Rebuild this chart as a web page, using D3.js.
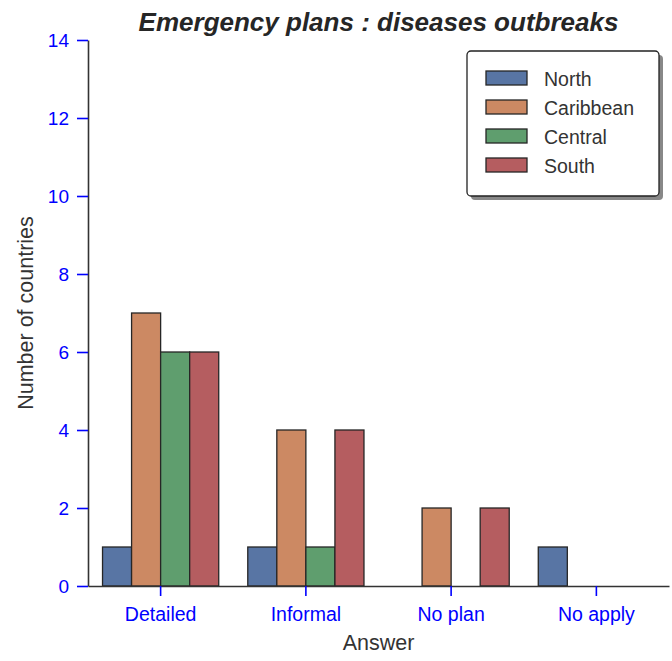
<!DOCTYPE html>
<html>
<head>
<meta charset="utf-8">
<script src="https://cdn.jsdelivr.net/npm/d3@7"></script>
<style>
  body { margin: 0; background: #fff; font-family: "Liberation Sans", Arial, sans-serif; }
  svg text { font-family: "Liberation Sans", Arial, sans-serif; }
</style>
</head>
<body>
<div id="container"><svg></svg></div>
<script>
let width = 672;
let height = 661;

// data
let categories = ['Detailed', 'Informal', 'No plan', 'No apply'];
let regions = ['North', 'Caribbean', 'Central', 'South'];
let north = [1, 1, 0, 1];
let caribbean = [7, 4, 2, 0];
let central = [6, 1, 0, 0];
let south = [6, 4, 2, 0];
let yTicks = [0, 2, 4, 6, 8, 10, 12, 14];
let colors = ['#5875a4', '#cc8963', '#5f9e6e', '#b55d60'];

let series = [north, caribbean, central, south];

function draw_main() {
    let padding = {left: 88, right: 3, top: 40, bottom: 75};
    let svg = d3.select('#container').select('svg')
        .attr('width', width)
        .attr('height', height);

    let x = d3.scaleBand()
        .domain(categories)
        .range([padding.left, width - padding.right])
        .padding(0);
    let xInner = d3.scaleBand()
        .domain(regions)
        .range([0, x.bandwidth() * 0.8]);
    let y = d3.scaleLinear()
        .domain([0, 14])
        .range([height - padding.bottom, padding.top]);

    // title
    svg.append('text')
        .attr('x', (padding.left + width - padding.right) / 2)
        .attr('y', 31)
        .attr('text-anchor', 'middle')
        .attr('font-size', '26px')
        .attr('font-weight', 'bold')
        .attr('font-style', 'italic')
        .attr('fill', '#262626')
        .text('Emergency plans : diseases outbreaks');

    // bars
    regions.forEach((r, i) => {
        svg.append('g')
            .selectAll('rect')
            .data(series[i])
            .enter()
            .append('rect')
            .attr('x', (d, j) => x(categories[j]) + x.bandwidth() * 0.1 + xInner(r))
            .attr('y', d => y(d))
            .attr('width', xInner.bandwidth())
            .attr('height', d => y(0) - y(d))
            .attr('fill', colors[i])
            .attr('stroke', '#262626')
            .attr('stroke-width', 1.3);
    });

    // x axis
    let gx = svg.append('g')
        .attr('transform', `translate(0, ${y(0)})`)
        .call(d3.axisBottom(x).tickSize(10).tickSizeOuter(0).tickPadding(0));
    gx.select('.domain').attr('stroke', '#333').attr('stroke-width', 1.6);
    gx.selectAll('.tick line').attr('stroke', 'blue').attr('stroke-width', 1.6);
    gx.selectAll('.tick text')
        .attr('fill', 'blue')
        .attr('font-size', '19.5px')
        .attr('dy', null)
        .attr('y', 621 - y(0));

    svg.append('text')
        .attr('x', (padding.left + width - padding.right) / 2)
        .attr('y', 650)
        .attr('text-anchor', 'middle')
        .attr('font-size', '21.5px')
        .attr('fill', '#333')
        .text('Answer');

    // y axis
    let gy = svg.append('g')
        .attr('transform', `translate(${padding.left}, 0)`)
        .call(d3.axisLeft(y).tickValues(yTicks).tickSize(11).tickPadding(8).tickSizeOuter(0));
    gy.select('.domain').attr('stroke', '#333').attr('stroke-width', 1.6);
    gy.selectAll('.tick line').attr('stroke', 'blue').attr('stroke-width', 1.6);
    gy.selectAll('.tick text').attr('fill', 'blue').attr('font-size', '19px');

    svg.append('text')
        .attr('transform', `translate(25, ${(y(0) + y(14)) / 2}) rotate(-90)`)
        .attr('text-anchor', 'middle')
        .attr('dy', '0.35em')
        .attr('font-size', '21.5px')
        .attr('fill', '#333')
        .text('Number of countries');

    // legend
    let lg = svg.append('g').attr('transform', 'translate(467, 51)');
    lg.append('rect')
        .attr('x', 4).attr('y', 4)
        .attr('width', 192).attr('height', 145)
        .attr('rx', 4)
        .attr('fill', '#888');
    lg.append('rect')
        .attr('width', 192).attr('height', 145)
        .attr('rx', 4)
        .attr('fill', '#fff')
        .attr('stroke', '#222')
        .attr('stroke-width', 1.3);
    regions.forEach((r, i) => {
        lg.append('rect')
            .attr('x', 19).attr('y', 20 + i * 29)
            .attr('width', 41).attr('height', 14)
            .attr('fill', colors[i])
            .attr('stroke', '#262626')
            .attr('stroke-width', 1.3);
        lg.append('text')
            .attr('x', 77).attr('y', 35 + i * 29)
            .attr('font-size', '19.5px')
            .attr('fill', '#333')
            .text(r);
    });
}

draw_main();
</script>
</body>
</html>
